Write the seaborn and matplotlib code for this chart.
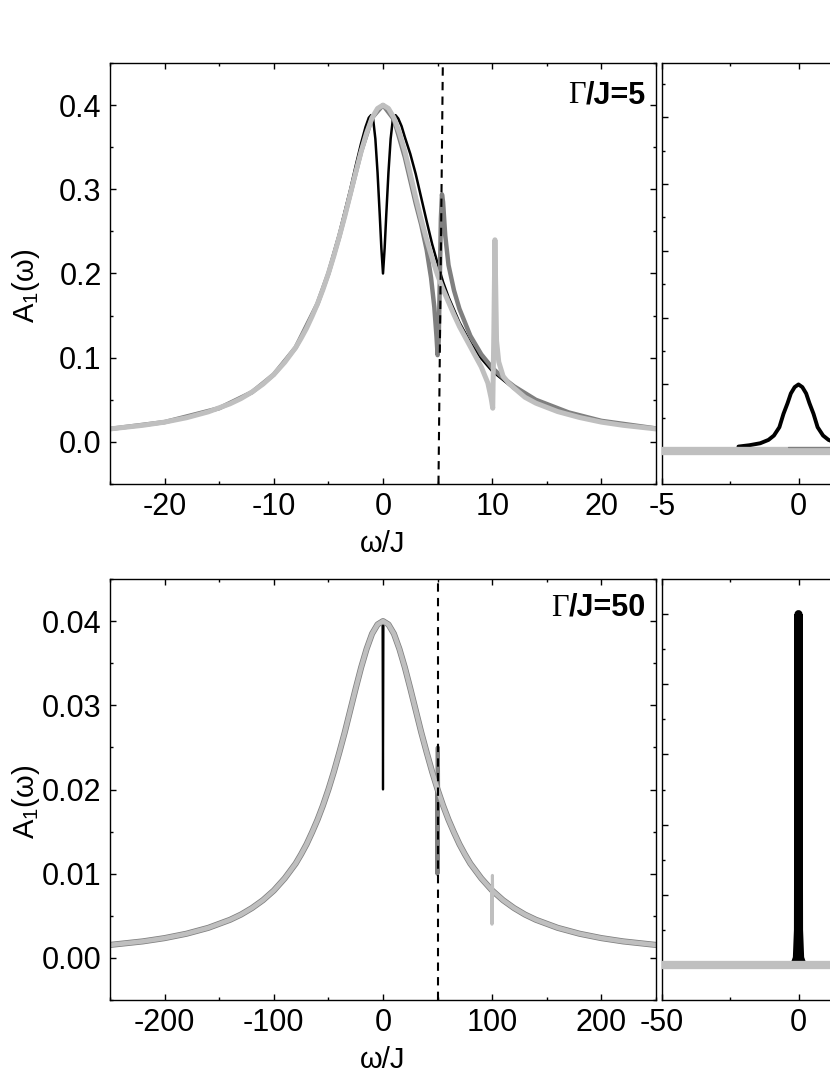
"""
plot.py
Spectral function A_1(omega) for Gamma/J = 5 and Gamma/J = 50,
full range (left) and a zoom around omega = 0 (right, cut by the page).
"""
import matplotlib
matplotlib.use("Agg")
import matplotlib.pyplot as plt
import seaborn as sns
from matplotlib.ticker import MultipleLocator, FixedLocator, FormatStrFormatter

BLACK = "#000000"
DARK  = "#7f7f7f"
LIGHT = "#bfbfbf"

# ---- Gamma/J = 5, left panel ----
W5_BLACK = [-25, -20, -15, -12, -10, -8, -6, -5, -4, -3, -2.5, -2, -1.6, -1.3, -1.1,
            -0.9, -0.7, -0.5, -0.3, -0.15, 0, 0.15, 0.3, 0.5, 0.7, 0.9, 1.15, 1.4,
            1.7, 2, 2.5, 3, 3.5, 4, 4.5, 5, 5.5, 6, 7, 8, 9, 10, 12, 14, 17, 20, 25]
A5_BLACK = [0.0154, 0.0235, 0.040, 0.059, 0.080, 0.112, 0.165, 0.202, 0.248, 0.300,
            0.328, 0.355, 0.374, 0.385, 0.388, 0.383, 0.360, 0.320, 0.270, 0.230,
            0.200, 0.230, 0.270, 0.320, 0.360, 0.383, 0.388, 0.384, 0.375, 0.362,
            0.342, 0.318, 0.290, 0.262, 0.235, 0.212, 0.190, 0.172, 0.142, 0.118,
            0.099, 0.084, 0.063, 0.048, 0.034, 0.025, 0.016]

W5_DARK = [-25, -20, -15, -12, -10, -8, -6, -5, -4, -3, -2, -1, 0, 1, 2, 3, 3.5, 4,
           4.4, 4.7, 4.9, 5.0, 5.1, 5.2, 5.3, 5.4, 5.5, 5.7, 6.0, 6.5, 7, 8, 9, 10,
           11, 12, 14, 17, 20, 25]
A5_DARK = [0.0154, 0.0235, 0.040, 0.059, 0.080, 0.112, 0.164, 0.200, 0.244, 0.294,
           0.345, 0.385, 0.400, 0.383, 0.338, 0.283, 0.258, 0.228, 0.195, 0.160,
           0.125, 0.103, 0.120, 0.190, 0.265, 0.294, 0.285, 0.245, 0.210, 0.180,
           0.158, 0.126, 0.104, 0.088, 0.076, 0.066, 0.050, 0.035, 0.025, 0.016]

W5_LIGHT = [-25, -22, -20, -18, -16, -14, -13, -12, -11, -10, -9, -8, -7.5, -7, -6.5,
            -6, -5.5, -5, -4.5, -4, -3.5, -3, -2.5, -2, -1.5, -1, -0.5, 0, 0.5, 1,
            1.5, 2, 2.5, 3, 3.5, 4, 4.5, 5, 5.5, 6, 6.5, 7, 7.5, 8, 8.5, 9, 9.6,
            9.9, 10.05, 10.15, 10.25, 10.3, 10.4, 10.6, 11, 11.5, 12, 13, 14, 16,
            18, 20, 22, 25]
A5_LIGHT = [0.0154, 0.0197, 0.0235, 0.0287, 0.0357, 0.0453, 0.0515, 0.0592, 0.0685,
            0.080, 0.0945, 0.112, 0.123, 0.135, 0.149, 0.164, 0.181, 0.200, 0.221,
            0.244, 0.268, 0.294, 0.320, 0.345, 0.367, 0.385, 0.396, 0.400, 0.396,
            0.385, 0.367, 0.345, 0.318, 0.290, 0.264, 0.240, 0.218, 0.198, 0.181,
            0.166, 0.151, 0.137, 0.125, 0.113, 0.101, 0.089, 0.070, 0.052, 0.040,
            0.130, 0.240, 0.200, 0.120, 0.095, 0.078, 0.070, 0.064, 0.053, 0.046,
            0.036, 0.029, 0.0235, 0.0197, 0.0154]

DASH5_W = [5.08, 5.48]
DASH5_A = [-0.05, 0.45]

# ---- Gamma/J = 5, right panel (zoom, arbitrary units) ----
W5R_BLACK = [-2.2, -1.8, -1.4, -1.1, -0.9, -0.7, -0.55, -0.4, -0.28, -0.14, 0,
             0.14, 0.28, 0.4, 0.55, 0.7, 0.9, 1.1, 1.4, 1.8, 2.2]
A5R_BLACK = [0.07, 0.09, 0.12, 0.17, 0.235, 0.36, 0.56, 0.72, 0.865, 0.96, 1.0,
             0.96, 0.865, 0.72, 0.56, 0.36, 0.235, 0.17, 0.12, 0.09, 0.07]
W5R_DARK  = [-0.4, 15]
A5R_DARK  = [0.07, 0.07]
W5R_LIGHT = [-5, 15]
A5R_LIGHT = [0, 0]

# ---- Gamma/J = 50, left panel ----
W50 = [-250, -220, -200, -180, -160, -140, -130, -120, -110, -100, -90, -80, -75,
       -70, -65, -60, -55, -50, -45, -40, -35, -30, -25, -20, -15, -10, -5, 0, 5,
       10, 15, 20, 25, 30, 35, 40, 45, 50, 55, 60, 65, 70, 75, 80, 90, 100, 110,
       120, 130, 140, 160, 180, 200, 220, 250]
A50 = [0.00154, 0.00196, 0.00235, 0.00287, 0.00357, 0.00453, 0.00515, 0.00592,
       0.00685, 0.0080, 0.00945, 0.0112, 0.0123, 0.0135, 0.0149, 0.0164, 0.0181,
       0.0200, 0.0221, 0.0244, 0.0268, 0.0294, 0.0320, 0.0345, 0.0367, 0.0385,
       0.0396, 0.0400, 0.0396, 0.0385, 0.0367, 0.0345, 0.0320, 0.0294, 0.0268,
       0.0244, 0.0221, 0.0200, 0.0181, 0.0164, 0.0149, 0.0135, 0.0123, 0.0112,
       0.00945, 0.0080, 0.00685, 0.00592, 0.00515, 0.00453, 0.00357, 0.00287,
       0.00235, 0.00196, 0.00154]
W50_BLACK = [-0.4, 0, 0.4]
A50_BLACK = [0.0395, 0.020, 0.0395]
W50_DARK  = [49.6, 49.8, 50.2, 50.4]
A50_DARK  = [0.0202, 0.010, 0.025, 0.0198]
W50_LIGHT = [99.6, 99.8, 100.2, 100.4]
A50_LIGHT = [0.0080, 0.0040, 0.0098, 0.0079]

DASH50_W = [50, 50]
DASH50_A = [-0.005, 0.045]

# ---- Gamma/J = 50, right panel (zoom, arbitrary units) ----
W50R_BLACK = [-1.5, -0.6, -0.2, 0, 0.2, 0.6, 1.5]
A50R_BLACK = [0, 0.1, 0.5, 5.0, 0.5, 0.1, 0]
W50R_LIGHT = [-50, 150]
A50R_LIGHT = [0, 0]


def style(ax, xmaj, xmin, ymaj, ymin):
    ax.xaxis.set_major_locator(xmaj)
    ax.xaxis.set_minor_locator(xmin)
    ax.yaxis.set_major_locator(ymaj)
    ax.yaxis.set_minor_locator(ymin)
    ax.tick_params(which="both", direction="in", top=True, right=True,
                   width=1, labelsize=22, pad=6, colors="black")
    ax.tick_params(which="major", length=4.5)
    ax.tick_params(which="minor", length=2.5)
    for s in ax.spines.values():
        s.set_linewidth(1)
        s.set_color("black")


def gamma_label(ax, y, value):
    t = ax.text(0.982, y, f"/J={value}", transform=ax.transAxes, ha="right",
                va="baseline", fontsize=22, fontweight="bold", color="black")
    ax.annotate("\u0393", xy=(0, 0), xycoords=t, ha="right", va="bottom",
                fontsize=22, color="black",
                family=["Liberation Serif", "DejaVu Serif"])


def line(ax, x, y, color, lw, **kw):
    sns.lineplot(x=x, y=y, ax=ax, color=color, lw=lw, estimator=None,
                 sort=False, **kw)


sns.set_theme(style="ticks")
plt.rcParams["font.family"] = ["Liberation Sans", "DejaVu Sans"]
plt.rcParams["mathtext.fontset"] = "custom"
plt.rcParams["mathtext.rm"] = "Liberation Sans"
plt.rcParams["axes.unicode_minus"] = False
plt.rcParams["text.color"] = "black"
plt.rcParams["axes.labelcolor"] = "black"

fig = plt.figure(figsize=(8.3, 10.75), dpi=100)
W, H = 830, 1075
ax_tl = fig.add_axes([110 / W, 1 - 484 / H, 546 / W, 421 / H])
ax_tr = fig.add_axes([662 / W, 1 - 484 / H, 546 / W, 421 / H])
ax_bl = fig.add_axes([110 / W, 1 - 1000 / H, 546 / W, 421 / H])
ax_br = fig.add_axes([662 / W, 1 - 1000 / H, 546 / W, 421 / H])

# top left
line(ax_tl, W5_BLACK, A5_BLACK, BLACK, 1.8)
line(ax_tl, W5_DARK, A5_DARK, DARK, 3.2)
line(ax_tl, W5_LIGHT, A5_LIGHT, LIGHT, 3.6)
ax_tl.plot(DASH5_W, DASH5_A, color=BLACK, lw=1.5, ls=(0, (4, 3)), zorder=4)
ax_tl.set_xlim(-25, 25)
ax_tl.set_ylim(-0.05, 0.45)
style(ax_tl, MultipleLocator(10), MultipleLocator(5),
      MultipleLocator(0.1), MultipleLocator(0.05))
ax_tl.yaxis.set_major_formatter(FormatStrFormatter("%.1f"))
gamma_label(ax_tl, 0.904, 5)

# top right (only the part left of omega ~ 1 fits on the page)
line(ax_tr, W5R_BLACK, A5R_BLACK, BLACK, 2.8)
line(ax_tr, W5R_LIGHT, A5R_LIGHT, LIGHT, 6, zorder=3)
line(ax_tr, W5R_DARK, A5R_DARK, DARK, 0.9, zorder=3)
ax_tr.set_xlim(-5, 15)
ax_tr.set_ylim(-0.49, 5.81)
style(ax_tr, FixedLocator([-5, 0]), FixedLocator([-2.5, 2.5]),
      FixedLocator([1, 2, 3, 4, 5]), FixedLocator([0.5, 1.5, 2.5, 3.5, 4.5, 5.5]))
ax_tr.tick_params(labelleft=False)

# bottom left
line(ax_bl, W50, A50, BLACK, 1.6)
line(ax_bl, W50_BLACK, A50_BLACK, BLACK, 1.6)
line(ax_bl, W50, A50, DARK, 4.4)
line(ax_bl, W50_DARK, A50_DARK, DARK, 3.0)
line(ax_bl, W50, A50, LIGHT, 3.3)
line(ax_bl, W50_LIGHT, A50_LIGHT, LIGHT, 2.2)
ax_bl.plot(DASH50_W, DASH50_A, color=BLACK, lw=1.5, ls=(0, (4, 3)), zorder=4)
ax_bl.set_xlim(-250, 250)
ax_bl.set_ylim(-0.005, 0.045)
style(ax_bl, MultipleLocator(100), MultipleLocator(50),
      MultipleLocator(0.01), MultipleLocator(0.005))
ax_bl.yaxis.set_major_formatter(FormatStrFormatter("%.2f"))
gamma_label(ax_bl, 0.913, 50)

# bottom right
line(ax_br, W50R_BLACK, A50R_BLACK, BLACK, 5.8)
line(ax_br, W50R_LIGHT, A50R_LIGHT, LIGHT, 6, zorder=3)
ax_br.set_xlim(-50, 150)
ax_br.set_ylim(-0.5, 5.5)
style(ax_br, FixedLocator([-50, 0]), FixedLocator([-25, 25]),
      FixedLocator([1, 2, 3, 4, 5]), FixedLocator([0.5, 1.5, 2.5, 3.5, 4.5]))
ax_br.tick_params(labelleft=False)

for ax in (ax_tl, ax_bl):
    ax.set_xlabel("\u03c9/J", fontsize=21)
    ax.set_ylabel("A$_1$(\u03c9)", fontsize=21)
    ax.xaxis.set_label_coords(0.5, -0.11)
    ax.yaxis.set_label_coords(-0.125, 0.47)
for ax in (ax_tr, ax_br):
    ax.set_xlabel("")
    ax.set_ylabel("")

fig.savefig("out.png", dpi=100)
